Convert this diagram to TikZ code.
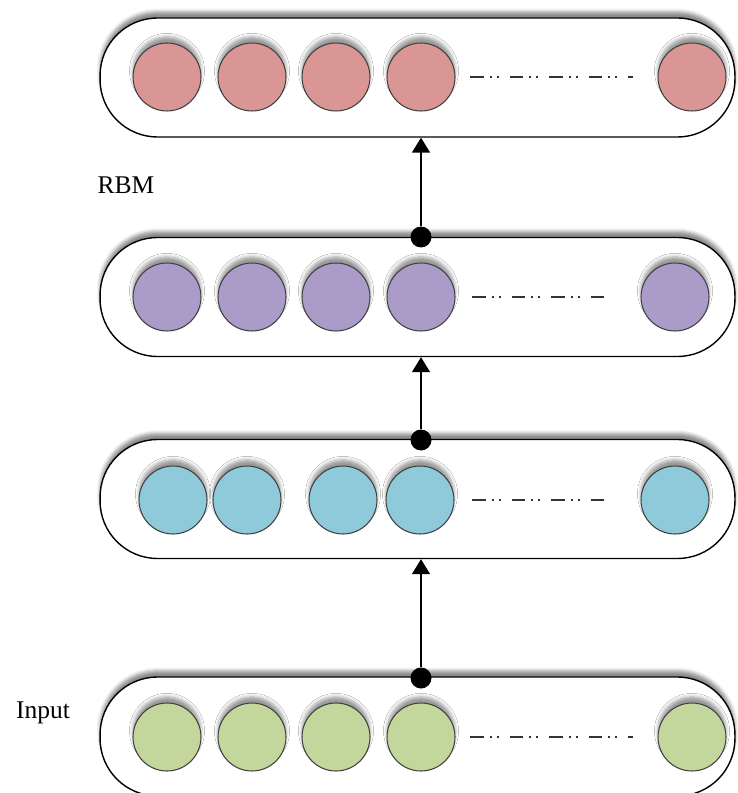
\documentclass[tikz,border=0pt]{standalone}
\usepackage{fontspec}
\setmainfont{Liberation Serif}
\usetikzlibrary{arrows.meta,shadows.blur}

\definecolor{hidtwo}{HTML}{D99694}
\definecolor{hidone}{HTML}{AB9BC8}
\definecolor{hidzero}{HTML}{8FCADB}
\definecolor{visible}{HTML}{C3D69B}

\begin{document}
\begin{tikzpicture}[x=0.02cm, y=-0.02cm,
    layer/.style={draw, line width=0.8pt, fill=white, rounded corners=1.15cm,
      minimum width=12.7cm, minimum height=2.38cm, inner sep=0pt,
      blur shadow={shadow xshift=0pt, shadow yshift=3.5pt, shadow blur radius=2pt, shadow opacity=45}},
    unit/.style={circle, draw=black!75, line width=0.6pt, minimum size=1.36cm, inner sep=0pt,
      blur shadow={shadow xshift=0pt, shadow yshift=3.5pt, shadow blur radius=2pt, shadow opacity=40}},
    joint/.style={circle, fill=black, minimum size=0.42cm, inner sep=0pt},
    gap/.style={line width=0.9pt, black!80,
      dash pattern=on 7.9pt off 3.4pt on 1.1pt off 2.8pt on 1.1pt off 6.2pt},
    label/.style={font=\fontsize{14.5}{17}\selectfont}]
    \useasboundingbox (0, 0) rectangle (737, 793);

    % the four layers
    \node [layer] (top) at (417.5, 77.5) {};
    \node [layer] (mid) at (417.5, 297) {};
    \node [layer] (low) at (417.5, 499) {};
    \node [layer] (vis) at (417.5, 736.5) {};

    % units of each layer
    \node [unit, fill=hidtwo] (t1) at (167, 77) {};
    \node [unit, fill=hidtwo] (t2) at (252, 77) {};
    \node [unit, fill=hidtwo] (t3) at (336, 77) {};
    \node [unit, fill=hidtwo] (t4) at (421, 77) {};
    \node [unit, fill=hidtwo] (t5) at (692, 77) {};
    \draw [gap] (470, 77) -- (633, 77);

    \node [unit, fill=hidone] (m1) at (167, 297) {};
    \node [unit, fill=hidone] (m2) at (252, 297) {};
    \node [unit, fill=hidone] (m3) at (336, 297) {};
    \node [unit, fill=hidone] (m4) at (421, 297) {};
    \node [unit, fill=hidone] (m5) at (675, 297) {};
    \draw [gap] (472, 297) -- (606, 297);

    \node [unit, fill=hidzero] (l1) at (173, 500) {};
    \node [unit, fill=hidzero] (l2) at (247, 500) {};
    \node [unit, fill=hidzero] (l3) at (343, 500) {};
    \node [unit, fill=hidzero] (l4) at (420, 500) {};
    \node [unit, fill=hidzero] (l5) at (675, 500) {};
    \draw [gap] (472, 500) -- (606, 500);

    \node [unit, fill=visible] (v1) at (167, 737) {};
    \node [unit, fill=visible] (v2) at (252, 737) {};
    \node [unit, fill=visible] (v3) at (336, 737) {};
    \node [unit, fill=visible] (v4) at (421, 737) {};
    \node [unit, fill=visible] (v5) at (692, 737) {};
    \draw [gap] (470, 737) -- (633, 737);

    % links between the layers
    \node [joint] (j1) at (421, 237) {};
    \node [joint] (j2) at (421, 440) {};
    \node [joint] (j3) at (421, 678) {};
    \draw [line width=0.85pt, -{Triangle[length=0.3cm, width=0.36cm]}] (j1) -- (j1 |- top.south);
    \draw [line width=0.85pt, -{Triangle[length=0.3cm, width=0.36cm]}] (j2) -- (j2 |- mid.south);
    \draw [line width=0.85pt, -{Triangle[length=0.3cm, width=0.36cm]}] (j3) -- (j3 |- low.south);

    \node [label] (rbm) at (126, 185) {RBM};
    \node [label] (input) at (43, 713) {Input};
\end{tikzpicture}
\end{document}
